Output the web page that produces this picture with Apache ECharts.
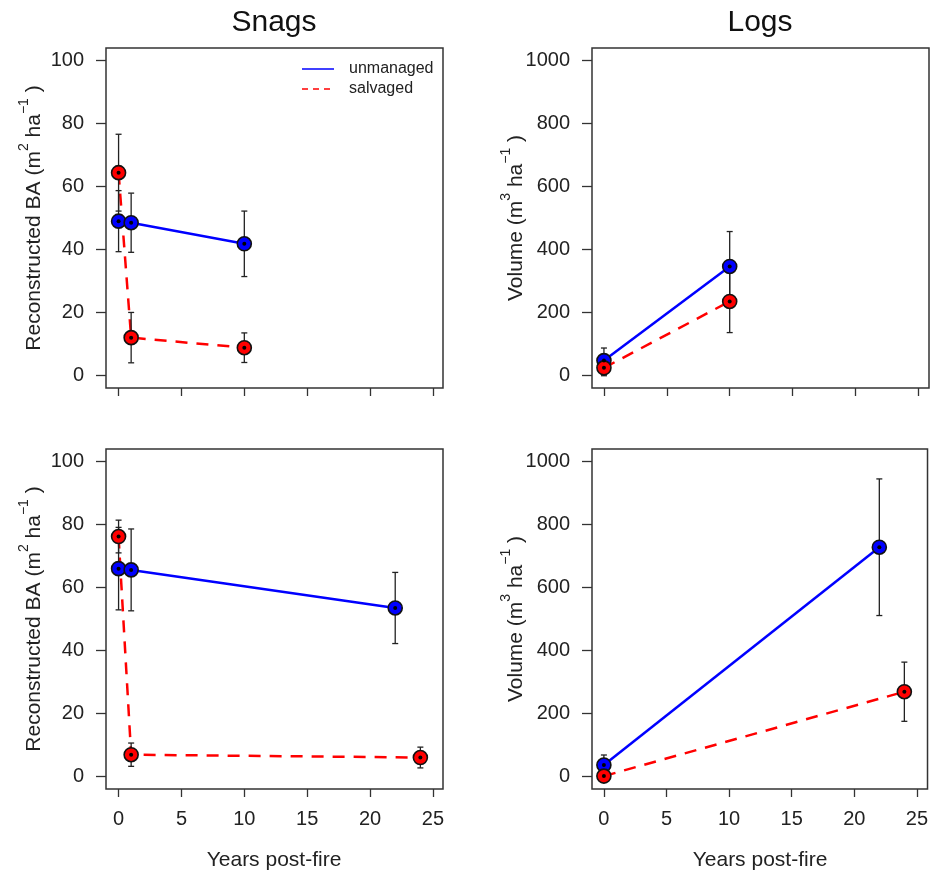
<!DOCTYPE html>
<html>
<head>
<meta charset="utf-8">
<script src="https://cdn.jsdelivr.net/npm/echarts@6/dist/echarts.min.js"></script>
<style>
  html, body { margin: 0; padding: 0; background: #fff; }
  #chart { width: 931px; height: 874px; }
</style>
</head>
<body>
<div id="chart"></div>
<script>
// ---- tick labels ----
const yearTicks = [0, 5, 10, 15, 20, 25];
const baTicks = [0, 20, 40, 60, 80, 100];
const volTicks = [0, 200, 400, 600, 800, 1000];

// ---- Snags, upper row ----
const snagTopUnmanagedYears = [0, 1, 10];
const snagTopUnmanagedBA = [49.0, 48.5, 41.8];
const snagTopUnmanagedSE = [9.7, 9.4, 10.4];
const snagTopSalvagedYears = [0, 1, 10];
const snagTopSalvagedBA = [64.4, 12.0, 8.8];
const snagTopSalvagedSE = [12.2, 8.0, 4.7];

// ---- Logs, upper row ----
const logTopUnmanagedYears = [0, 10];
const logTopUnmanagedVol = [47, 346];
const logTopUnmanagedSE = [40, 111];
const logTopSalvagedYears = [0, 10];
const logTopSalvagedVol = [24, 235];
const logTopSalvagedSE = [25, 99];

// ---- Snags, lower row ----
const snagBotUnmanagedYears = [0, 1, 22];
const snagBotUnmanagedBA = [66.0, 65.6, 53.5];
const snagBotUnmanagedSE = [13.1, 13.0, 11.3];
const snagBotSalvagedYears = [0, 1, 24];
const snagBotSalvagedBA = [76.2, 6.9, 6.0];
const snagBotSalvagedSE = [5.2, 3.7, 3.3];

// ---- Logs, lower row ----
const logBotUnmanagedYears = [0, 22];
const logBotUnmanagedVol = [36, 728];
const logBotUnmanagedSE = [32, 217];
const logBotSalvagedYears = [0, 24];
const logBotSalvagedVol = [1, 269];
const logBotSalvagedSE = [4, 94];

const FONT = 'Liberation Sans, Arial, sans-serif';
const BLUE = '#0000ff';
const RED = '#ff0000';
const INK = '#222222';

function zip(xs, ys, es) {
  return xs.map((x, i) => es ? [x, ys[i], es[i]] : [x, ys[i]]);
}

const panels = [
  { grid: { left: 106, top: 48 }, xMin: -1.0, xMax: 25.8, yMin: -4, yMax: 104, yTicks: baTicks, xLabels: false,
    u: [snagTopUnmanagedYears, snagTopUnmanagedBA, snagTopUnmanagedSE],
    s: [snagTopSalvagedYears, snagTopSalvagedBA, snagTopSalvagedSE] },
  { grid: { left: 592, top: 48 }, xMin: -0.95, xMax: 25.85, yMin: -40, yMax: 1040, yTicks: volTicks, xLabels: false,
    u: [logTopUnmanagedYears, logTopUnmanagedVol, logTopUnmanagedSE],
    s: [logTopSalvagedYears, logTopSalvagedVol, logTopSalvagedSE] },
  { grid: { left: 106, top: 449 }, xMin: -1.0, xMax: 25.8, yMin: -4, yMax: 104, yTicks: baTicks, xLabels: true,
    u: [snagBotUnmanagedYears, snagBotUnmanagedBA, snagBotUnmanagedSE],
    s: [snagBotSalvagedYears, snagBotSalvagedBA, snagBotSalvagedSE] },
  { grid: { left: 592, top: 449 }, xMin: -0.95, xMax: 25.85, yMin: -40, yMax: 1040, yTicks: volTicks, xLabels: true,
    u: [logBotUnmanagedYears, logBotUnmanagedVol, logBotUnmanagedSE],
    s: [logBotSalvagedYears, logBotSalvagedVol, logBotSalvagedSE] }
];

function errorBars(params, api) {
  const x = api.value(0), y = api.value(1), e = api.value(2);
  const top = api.coord([x, y + e]);
  const bot = api.coord([x, y - e]);
  const hw = 3;
  const st = { stroke: INK, lineWidth: 1.3 };
  return {
    type: 'group',
    children: [
      { type: 'line', shape: { x1: top[0], y1: top[1], x2: bot[0], y2: bot[1] }, style: st },
      { type: 'line', shape: { x1: top[0] - hw, y1: top[1], x2: top[0] + hw, y2: top[1] }, style: st },
      { type: 'line', shape: { x1: bot[0] - hw, y1: bot[1], x2: bot[0] + hw, y2: bot[1] }, style: st }
    ]
  };
}

const plainNumber = v => String(v);

const grids = [], xAxes = [], yAxes = [], series = [];
panels.forEach((p, i) => {
  grids.push({ left: p.grid.left, top: p.grid.top, width: 337, height: 340, show: true,
               borderColor: '#333', borderWidth: 1.5, backgroundColor: 'transparent' });
  xAxes.push({
    type: 'value', gridIndex: i, min: p.xMin, max: p.xMax,
    axisLine: { show: false, onZero: false },
    splitLine: { show: false },
    axisTick: { show: true, length: 8, customValues: yearTicks, lineStyle: { color: '#333', width: 1.3 } },
    axisLabel: { show: p.xLabels, customValues: yearTicks, formatter: plainNumber,
                 fontSize: 20, fontFamily: FONT, color: INK, margin: 20 }
  });
  yAxes.push({
    type: 'value', gridIndex: i, min: p.yMin, max: p.yMax,
    axisLine: { show: false, onZero: false },
    splitLine: { show: false },
    axisTick: { show: true, length: 10, customValues: p.yTicks, lineStyle: { color: '#333', width: 1.3 } },
    axisLabel: { show: true, customValues: p.yTicks, formatter: plainNumber,
                 fontSize: 20, fontFamily: FONT, color: INK, margin: 22 }
  });

  const groups = [
    { d: p.u, color: BLUE, dash: 'solid' },
    { d: p.s, color: RED, dash: [12, 9] }
  ];
  groups.forEach(g => {
    series.push({
      type: 'line', xAxisIndex: i, yAxisIndex: i, data: zip(g.d[0], g.d[1]),
      showSymbol: false, symbol: 'none', z: 2, silent: true,
      lineStyle: { color: g.color, width: 2.5, type: g.dash }
    });
  });
  groups.forEach(g => {
    series.push({
      type: 'custom', xAxisIndex: i, yAxisIndex: i, coordinateSystem: 'cartesian2d',
      data: zip(g.d[0], g.d[1], g.d[2]), renderItem: errorBars, z: 3, silent: true,
      encode: { x: 0, y: 1 }
    });
  });
  groups.forEach(g => {
    series.push({
      type: 'scatter', xAxisIndex: i, yAxisIndex: i, data: zip(g.d[0], g.d[1]),
      symbol: 'circle', symbolSize: 14, z: 4, silent: true,
      itemStyle: { color: g.color, borderColor: '#111', borderWidth: 1.6, opacity: 1 }
    });
    series.push({
      type: 'scatter', xAxisIndex: i, yAxisIndex: i, data: zip(g.d[0], g.d[1]),
      symbol: 'circle', symbolSize: 4, z: 5, silent: true,
      itemStyle: { color: '#000', opacity: 1 }
    });
  });
});

function yTitle(x, y, unit, exp) {
  const head = unit === 'BA' ? 'Reconstructed BA (m' : 'Volume (m';
  return {
    type: 'text', x: x, y: y, rotation: Math.PI / 2, silent: true,
    style: {
      text: '{a|' + head + '}{s|' + exp + '}{a| ha}{s|\u22121}{a| )}',
      align: 'center', verticalAlign: 'middle', fill: INK, fontFamily: FONT, fontSize: 21,
      rich: {
        a: { fontSize: 21, fontFamily: FONT, fill: INK, verticalAlign: 'bottom', lineHeight: 28 },
        s: { fontSize: 14, fontFamily: FONT, fill: INK, verticalAlign: 'top', lineHeight: 28 }
      }
    }
  };
}

const graphics = [
  { type: 'text', x: 274, y: 23, silent: true,
    style: { text: 'Snags', fontSize: 30, fontFamily: FONT, fill: '#111', align: 'center', verticalAlign: 'middle' } },
  { type: 'text', x: 760, y: 23, silent: true,
    style: { text: 'Logs', fontSize: 30, fontFamily: FONT, fill: '#111', align: 'center', verticalAlign: 'middle' } },
  { type: 'text', x: 274, y: 860, silent: true,
    style: { text: 'Years post-fire', fontSize: 21, fontFamily: FONT, fill: INK, align: 'center', verticalAlign: 'middle' } },
  { type: 'text', x: 760, y: 860, silent: true,
    style: { text: 'Years post-fire', fontSize: 21, fontFamily: FONT, fill: INK, align: 'center', verticalAlign: 'middle' } },
  yTitle(31, 218, 'BA', '2'),
  yTitle(31, 619, 'BA', '2'),
  yTitle(513, 218, 'Vol', '3'),
  yTitle(513, 619, 'Vol', '3'),
  // legend
  { type: 'line', silent: true, shape: { x1: 302, y1: 69, x2: 334, y2: 69 },
    style: { stroke: BLUE, lineWidth: 1.5 } },
  { type: 'line', silent: true, shape: { x1: 302, y1: 89, x2: 334, y2: 89 },
    style: { stroke: RED, lineWidth: 1.5, lineDash: [6, 5] } },
  { type: 'text', x: 349, y: 69, silent: true,
    style: { text: 'unmanaged', fontSize: 16, fontFamily: FONT, fill: INK, verticalAlign: 'middle' } },
  { type: 'text', x: 349, y: 89, silent: true,
    style: { text: 'salvaged', fontSize: 16, fontFamily: FONT, fill: INK, verticalAlign: 'middle' } }
];

const chart = echarts.init(document.getElementById('chart'), null, { renderer: 'canvas' });
chart.setOption({
  animation: false,
  backgroundColor: '#fff',
  grid: grids,
  xAxis: xAxes,
  yAxis: yAxes,
  series: series,
  graphic: graphics
});
</script>
</body>
</html>
